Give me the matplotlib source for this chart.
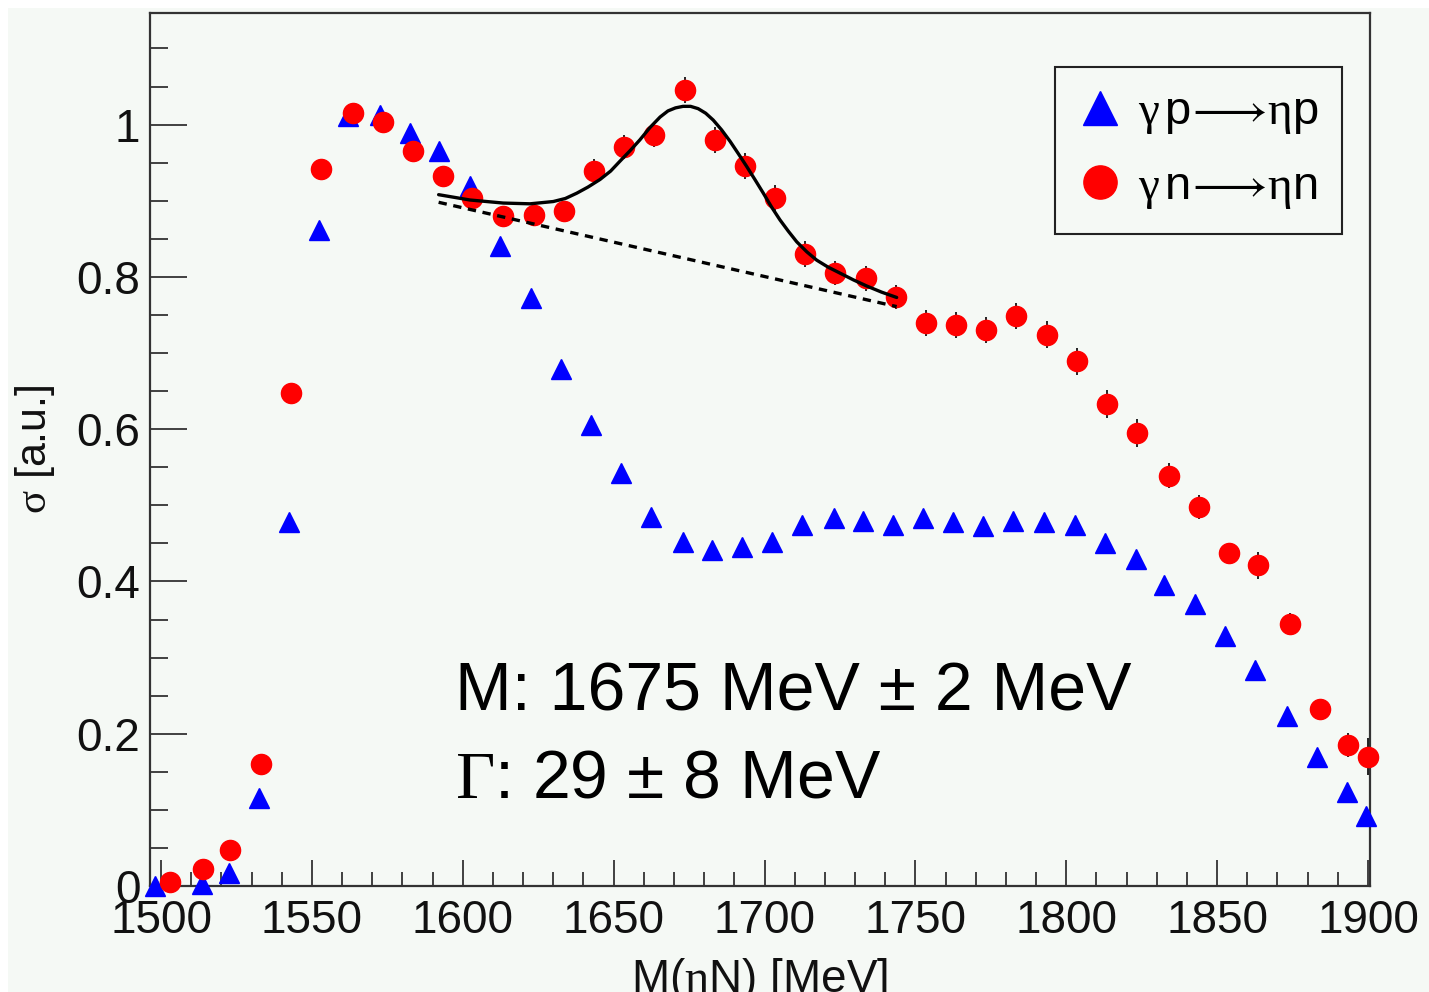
import matplotlib
matplotlib.use("Agg")
import matplotlib.pyplot as plt
from matplotlib.patches import Rectangle
from matplotlib.ticker import MultipleLocator

plt.rcParams['font.family'] = ['Liberation Sans', 'DejaVu Sans']
plt.rcParams['mathtext.fontset'] = 'custom'
plt.rcParams['mathtext.rm'] = 'Liberation Serif'
plt.rcParams['mathtext.it'] = 'Liberation Serif:italic'
plt.rcParams['mathtext.sf'] = 'Liberation Sans'

# gamma p -> eta p  (blue triangles)
proton_x = [1498, 1513.5, 1522.5, 1532.5, 1542.5, 1552.5, 1562, 1572.5, 1582.5, 1592, 1602.5,
            1612.5, 1622.5, 1632.5, 1642.5, 1652.5, 1662.5, 1673, 1682.5, 1692.5, 1702.5,
            1712.5, 1723, 1732.5, 1742.5, 1752.5, 1762.5, 1772.5, 1782.5, 1792.5, 1803,
            1813, 1823, 1832.5, 1842.5, 1852.5, 1862.5, 1873, 1883, 1893, 1899.5]
proton_y = [0.0, 0.002, 0.017, 0.116, 0.478, 0.862, 1.011, 1.013, 0.989, 0.965, 0.919,
            0.841, 0.772, 0.679, 0.606, 0.542, 0.484, 0.452, 0.441, 0.445, 0.452,
            0.474, 0.483, 0.480, 0.474, 0.483, 0.478, 0.473, 0.479, 0.478, 0.474,
            0.450, 0.429, 0.395, 0.371, 0.328, 0.284, 0.223, 0.169, 0.124, 0.092]

# gamma n -> eta n  (red circles)
neutron_x = [1503, 1514, 1523, 1533, 1543, 1553, 1563.5, 1573.5, 1583.5, 1593.5, 1603,
             1613.5, 1623.5, 1633.5, 1643.5, 1653.5, 1663.5, 1673.5, 1683.5, 1693.5, 1703.5,
             1713.5, 1723.5, 1733.5, 1743.5, 1753.5, 1763.5, 1773.5, 1783.5, 1793.5, 1803.5,
             1813.5, 1823.5, 1834, 1844, 1854, 1863.5, 1874, 1884, 1893.5, 1900]
neutron_y = [0.005, 0.022, 0.047, 0.160, 0.648, 0.942, 1.015, 1.003, 0.966, 0.933, 0.903,
             0.880, 0.881, 0.886, 0.939, 0.971, 0.987, 1.045, 0.980, 0.946, 0.904,
             0.830, 0.805, 0.798, 0.774, 0.740, 0.737, 0.730, 0.749, 0.724, 0.689,
             0.633, 0.595, 0.539, 0.498, 0.438, 0.421, 0.344, 0.232, 0.185, 0.170]
neutron_err = [0.008, 0.008, 0.008, 0.008, 0.010, 0.010, 0.010, 0.010, 0.010, 0.010, 0.010,
               0.010, 0.010, 0.010, 0.016, 0.016, 0.016, 0.017, 0.017, 0.017, 0.017,
               0.017, 0.016, 0.016, 0.016, 0.017, 0.017, 0.017, 0.017, 0.018, 0.018,
               0.018, 0.018, 0.016, 0.016, 0.012, 0.018, 0.014, 0.014, 0.016, 0.024]

# fit curve and linear background
fit_x = [1592, 1602.4, 1613.4, 1622.3, 1630, 1634, 1637.8, 1641.5, 1645.5, 1649, 1652.1,
         1655.5, 1658.7, 1662, 1665.4, 1668, 1670.5, 1673, 1675.5, 1678, 1680.5, 1683,
         1685.8, 1688.6, 1691.3, 1694.1, 1696.8, 1699.6, 1702.3, 1705.1, 1707.9, 1710.7,
         1714, 1717.3, 1721, 1725, 1729.5, 1733.9, 1738.8, 1743.8]
fit_y = [0.908, 0.901, 0.897, 0.896, 0.899, 0.903, 0.910, 0.918, 0.928, 0.939, 0.952,
         0.966, 0.980, 0.996, 1.010, 1.018, 1.022, 1.024, 1.024, 1.021, 1.015, 1.006,
         0.993, 0.978, 0.962, 0.945, 0.928, 0.910, 0.892, 0.875, 0.860, 0.846,
         0.833, 0.822, 0.813, 0.805, 0.796, 0.788, 0.780, 0.773]
bg_x = [1592, 1743.8]
bg_y = [0.898, 0.761]

bgcol = '#f5f9f5'

fig = plt.figure(figsize=(14.29, 9.92), dpi=100)
fig.patch.set_facecolor('white')
fig.patches.append(Rectangle((8 / 1429, 0), 1, 1 - 8 / 992, transform=fig.transFigure,
                             facecolor=bgcol, edgecolor='none', zorder=-10))

ax = fig.add_axes([0.10497, 0.10685, 0.85374, 0.88034])
ax.set_facecolor(bgcol)

ax.plot(proton_x, proton_y, linestyle='none', marker='^', ms=14.5, color='#0000ff',
        clip_on=False, zorder=3,
        label=r'$\mathrm{\gamma}\,\mathsf{p}\!\longrightarrow\!\mathrm{\eta}\mathsf{p}$')
ax.errorbar(neutron_x, neutron_y, yerr=neutron_err, fmt='none', ecolor='black',
            elinewidth=1.2, capsize=0, clip_on=False, zorder=4)
ax.plot(neutron_x, neutron_y, linestyle='none', marker='o', ms=14.5, color='#ff0000',
        clip_on=False, zorder=4,
        label=r'$\mathrm{\gamma}\,\mathsf{n}\!\longrightarrow\!\mathrm{\eta}\mathsf{n}$')

ax.plot(fit_x, fit_y, color='black', lw=2.4, zorder=5, solid_capstyle='round',
        solid_joinstyle='round')
ax.plot(bg_x, bg_y, color='black', lw=2.4, linestyle=(0, (2.5, 2.0)), zorder=5)

ax.set_xlim(1496.35, 1900.66)
ax.set_ylim(0, 1.147)

ax.xaxis.set_major_locator(MultipleLocator(50))
ax.xaxis.set_minor_locator(MultipleLocator(10))
ax.yaxis.set_minor_locator(MultipleLocator(0.05))
ax.set_yticks([0, 0.2, 0.4, 0.6, 0.8, 1.0])
ax.set_yticklabels(['0', '0.2', '0.4', '0.6', '0.8', '1'])

ax.tick_params(axis='x', which='major', direction='in', length=18.5, width=1.2,
               labelsize=33, pad=9, colors='#222222', labelcolor='#111111')
ax.tick_params(axis='x', which='minor', direction='in', length=10, width=1.2, colors='#222222')
ax.tick_params(axis='y', which='major', direction='in', length=26.5, width=1.2,
               labelsize=33, pad=7, colors='#222222', labelcolor='#111111')
ax.tick_params(axis='y', which='minor', direction='in', length=13, width=1.2, colors='#222222')
ax.tick_params(top=False, right=False)

for sp in ax.spines.values():
    sp.set_linewidth(1.6)
    sp.set_color('#333333')

ax.set_xlabel(r'M($\mathrm{\eta}$N) [MeV]', fontsize=33, color='#111111', labelpad=10)
ax.set_ylabel(r'$\mathrm{\sigma}$ [a.u.]', fontsize=31, color='#111111')
ax.yaxis.set_label_coords(-0.076, 0.5)

ax.text(0.25, 0.2007, 'M: 1675 MeV \u00b1 2 MeV', transform=ax.transAxes,
        fontsize=49, va='baseline', ha='left', color='black')
ax.text(0.25, 0.1008, '$\\mathrm{\\Gamma}$: 29 \u00b1 8 MeV', transform=ax.transAxes,
        fontsize=49, va='baseline', ha='left', color='black')

leg = ax.legend(loc='upper right', bbox_to_anchor=(0.977, 0.938), fontsize=34,
                markerscale=1.65, frameon=True, fancybox=False, shadow=False,
                handlelength=0.9, handletextpad=0.35, borderpad=0.5, labelspacing=0.6,
                borderaxespad=0)
leg.get_frame().set_edgecolor('#222222')
leg.get_frame().set_linewidth(1.5)
leg.get_frame().set_facecolor(bgcol)
leg.get_frame().set_alpha(1)

fig.savefig('out.png', dpi=100, facecolor=fig.get_facecolor())
